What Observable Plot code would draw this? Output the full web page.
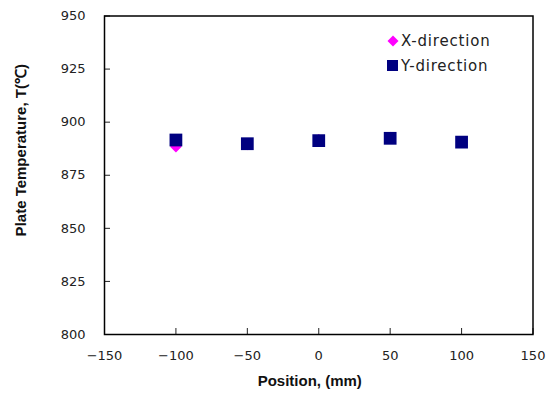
<!DOCTYPE html>
<html>
<head>
<meta charset="utf-8">
<script src="https://cdn.jsdelivr.net/npm/d3@7"></script>
<script src="https://cdn.jsdelivr.net/npm/@observablehq/plot@0.6"></script>
<style>
  html, body { margin: 0; padding: 0; background: #fff; }
  #wrap { position: relative; width: 555px; height: 399px; }
  #legend { position: absolute; left: 386px; top: 28px; font-family: "DejaVu Sans", sans-serif; font-size: 15px; color: #222; letter-spacing: 0.8px; }
  #legend .row { display: flex; align-items: center; height: 25px; }
  #legend svg { margin-right: 1px; }
</style>
</head>
<body>
<div id="wrap"><div id="legend"></div></div>
<script>
// Data
const positions = [-100, -50, 0, 50, 100];
const xDirection = [888.4, 889.5, 891.7, 892.8, 890.6];
const yDirection = [891.6, 889.85, 891.3, 892.4, 890.6];
const xTicks = [-150, -100, -50, 0, 50, 100, 150];
const yTicks = [800, 825, 850, 875, 900, 925, 950];
const seriesNames = ["X-direction", "Y-direction"];
const seriesColors = ["#ff00ff", "#000080"];

const rowsX = positions.map((p, i) => ({pos: p, temp: xDirection[i], series: seriesNames[0]}));
const rowsY = positions.map((p, i) => ({pos: p, temp: yDirection[i], series: seriesNames[1]}));

const font = "DejaVu Sans, sans-serif";
const labelFont = "Liberation Sans, Arial, sans-serif";

const chart = Plot.plot({
  width: 555,
  height: 399,
  marginLeft: 104,
  marginRight: 22.5,
  marginTop: 15.5,
  marginBottom: 65,
  style: {fontFamily: font, fontSize: "13px", color: "#222", background: "white"},
  x: {domain: [-150, 150]},
  y: {domain: [800, 950]},
  marks: [
    Plot.axisX({ticks: xTicks, tickSize: -6, tickPadding: 22, label: null, fontSize: 13}),
    Plot.axisY({ticks: yTicks, tickSize: -6, tickPadding: 25, label: null, fontSize: 13}),
    Plot.frame({stroke: "#000", strokeWidth: 1.5}),
    Plot.dot(rowsX, {x: "pos", y: "temp", symbol: "diamond2", r: 5.2, fill: seriesColors[0], stroke: null}),
    Plot.dot(rowsY, {x: "pos", y: "temp", symbol: "square", r: 7.2, fill: seriesColors[1], stroke: null}),
    Plot.text(["Position, (mm)"], {frameAnchor: "bottom", textAnchor: "middle", dy: 51, dx: -9, fontWeight: "bold", fontSize: 15, fontFamily: labelFont, fill: "#111"}),
    Plot.text(["Plate Temperature, T(\u2103)"], {frameAnchor: "left", textAnchor: "middle", rotate: -90, dx: -83, dy: -25, fontWeight: "bold", fontSize: 15, fontFamily: labelFont, fill: "#111"})
  ]
});
document.getElementById("wrap").prepend(chart);

// Legend
const legend = document.getElementById("legend");
seriesNames.forEach((name, i) => {
  const row = document.createElement("div");
  row.className = "row";
  const sym = i === 0
    ? `<svg width="14" height="14"><path d="M7,1.5L12.5,7L7,12.5L1.5,7Z" fill="${seriesColors[i]}"/></svg>`
    : `<svg width="14" height="14"><rect x="1" y="1" width="11" height="11" fill="${seriesColors[i]}"/></svg>`;
  row.innerHTML = sym + `<span>${name}</span>`;
  legend.appendChild(row);
});
</script>
</body>
</html>
